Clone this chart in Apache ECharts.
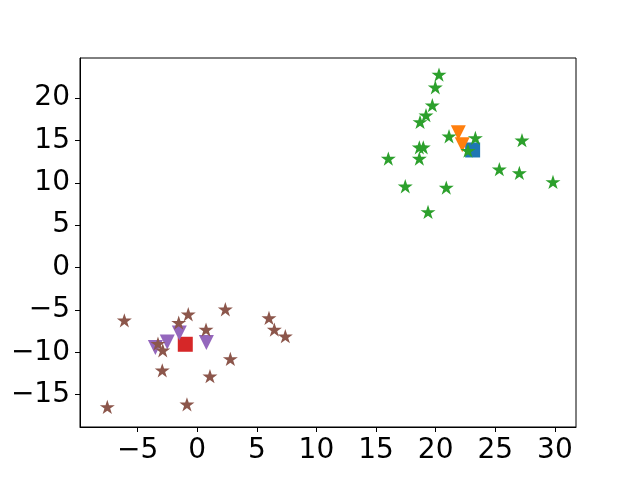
<!DOCTYPE html>
<html>
<head>
<meta charset="utf-8">
<script src="https://cdn.jsdelivr.net/npm/echarts@6/dist/echarts.min.js"></script>
<style>
  html, body { margin: 0; padding: 0; background: #fff; }
  #chart { width: 640px; height: 480px; }
</style>
</head>
<body>
<div id="chart"></div>
<script>
// values
const blueSquare = [[23.1, 13.87]];
const orangeTriangles = [[21.9, 15.9], [22.23, 14.5]];
const greenStars = [
    [20.28, 22.77], [19.97, 21.27], [19.72, 19.15], [19.19, 17.97], [18.69, 17.18],
    [21.12, 15.49], [23.33, 15.29], [27.24, 15.02], [18.63, 14.19], [18.96, 14.19],
    [22.71, 13.8], [16.03, 12.86], [18.63, 12.86], [25.34, 11.6], [27.02, 11.16],
    [29.84, 10.1], [17.45, 9.59], [20.89, 9.44], [19.36, 6.56]
];
const redSquare = [[-1.0, -9.05]];
const purpleTriangles = [[-3.51, -9.44], [-2.51, -8.77], [-1.5, -7.71], [0.77, -8.85]];
const brownStars = [
    [-6.11, -6.22], [-0.75, -5.51], [-1.55, -6.49], [2.36, -4.92], [0.74, -7.31],
    [6.02, -5.95], [6.47, -7.31], [7.39, -8.1], [-3.29, -8.97], [-2.89, -9.76],
    [-2.93, -12.12], [2.78, -10.78], [1.07, -12.82], [-7.54, -16.44], [-0.86, -16.13]
];
const xTicks = [-5, 0, 5, 10, 15, 20, 25, 30];
const yTicks = [-15, -10, -5, 0, 5, 10, 15, 20];

const star = 'path://M0,-1 L0.2245,-0.309 L0.951,-0.309 L0.363,0.118 L0.588,0.809 L0,0.382 L-0.588,0.809 L-0.363,0.118 L-0.951,-0.309 L-0.2245,-0.309 Z';

const fmt = (v) => String(v).replace('-', '\u2212');

function axis(min, max, ticks) {
    return {
        type: 'value',
        min: min,
        max: max,
        splitLine: { show: false },
        axisLine: { show: true, onZero: false, lineStyle: { color: '#000', width: 1 } },
        axisTick: { show: true, length: 5, customValues: ticks, lineStyle: { color: '#000' } },
        axisLabel: {
            customValues: ticks,
            formatter: fmt,
            color: '#000',
            fontFamily: 'DejaVu Sans',
            fontSize: 28,
            margin: 10
        }
    };
}

function scatter(data, symbol, size, color, rotate) {
    return {
        type: 'scatter',
        data: data,
        symbol: symbol,
        symbolSize: size,
        symbolRotate: rotate || 0,
        symbolKeepAspect: true,
        itemStyle: { color: color, opacity: 1 },
        emphasis: { disabled: true },
        animation: false
    };
}

const myChart = echarts.init(document.getElementById('chart'));
myChart.setOption({
    animation: false,
    grid: {
        left: 80, right: 64, top: 58, bottom: 53,
        show: true, borderColor: '#000', borderWidth: 1
    },
    xAxis: axis(-9.83, 31.77, xTicks),
    yAxis: axis(-18.81, 24.72, yTicks),
    series: [
        scatter(blueSquare, 'rect', 15, '#1f77b4'),
        scatter(orangeTriangles, 'triangle', 15, '#ff7f0e', 180),
        scatter(greenStars, star, 15, '#2ca02c'),
        scatter(redSquare, 'rect', 15, '#d62728'),
        scatter(purpleTriangles, 'triangle', 15, '#9467bd', 180),
        scatter(brownStars, star, 15, '#8c564b')
    ]
});
</script>
</body>
</html>
